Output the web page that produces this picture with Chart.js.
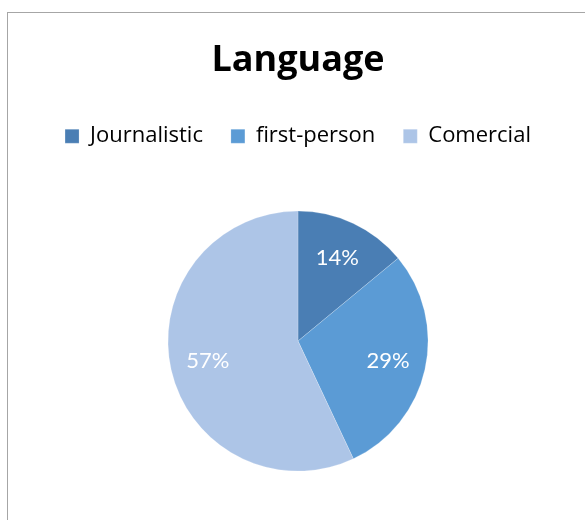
<!DOCTYPE html>
<html>
<head>
<meta charset="utf-8">
<script src="https://cdn.jsdelivr.net/npm/chart.js@4/dist/chart.umd.min.js"></script>
<style>
  html, body { margin: 0; padding: 0; background: #fff; overflow: hidden; }
  #frame {
    position: absolute;
    left: 7px;
    top: 12px;
    width: 580px;
    height: 540px;
    border-left: 1px solid #a6a6a6;
    border-top: 1px solid #a6a6a6;
  }
</style>
</head>
<body>
<div id="frame"><canvas id="myChart" width="580" height="540"></canvas></div>
<script>
// 言語タイプ別の割合
const categories = ['Journalistic', 'first-person', 'Comercial'];
const shares = [14, 29, 57];
const sliceColors = ['#4a7eb4', '#5b9bd5', '#adc5e7'];

// 各スライスの中に白でパーセントを描く
const sliceLabels = {
    id: 'sliceLabels',
    afterDatasetsDraw(chart) {
        const ctx = chart.ctx;
        const meta = chart.getDatasetMeta(0);
        ctx.save();
        ctx.fillStyle = '#ffffff';
        ctx.font = '22px Lato';
        ctx.textAlign = 'center';
        ctx.textBaseline = 'middle';
        meta.data.forEach((arc, i) => {
            const { x, y, startAngle, endAngle, outerRadius } =
                arc.getProps(['x', 'y', 'startAngle', 'endAngle', 'outerRadius'], true);
            const mid = (startAngle + endAngle) / 2;
            const r = outerRadius * 0.71;
            ctx.fillText(shares[i] + '%', x + Math.cos(mid) * r, y + Math.sin(mid) * r);
        });
        ctx.restore();
    }
};

new Chart(document.getElementById('myChart'), {
    type: 'pie',
    data: {
        labels: categories,
        datasets: [{
            data: shares,
            backgroundColor: sliceColors,
            borderColor: 'rgba(255,255,255,0.4)',
            borderWidth: 0.5,
            radius: 130
        }]
    },
    options: {
        responsive: false,
        animation: false,
        layout: { padding: { bottom: 28 } },
        plugins: {
            title: {
                display: true,
                text: 'Language',
                color: '#000',
                font: { family: 'Open Sans', size: 36, weight: 'bold' },
                padding: { top: 26, bottom: 15 }
            },
            legend: {
                position: 'top',
                labels: {
                    color: '#000',
                    font: { family: 'Open Sans', size: 22 },
                    boxWidth: 14,
                    boxHeight: 14,
                    padding: 28
                }
            },
            tooltip: { enabled: false }
        }
    },
    plugins: [sliceLabels]
});
</script>
</body>
</html>
